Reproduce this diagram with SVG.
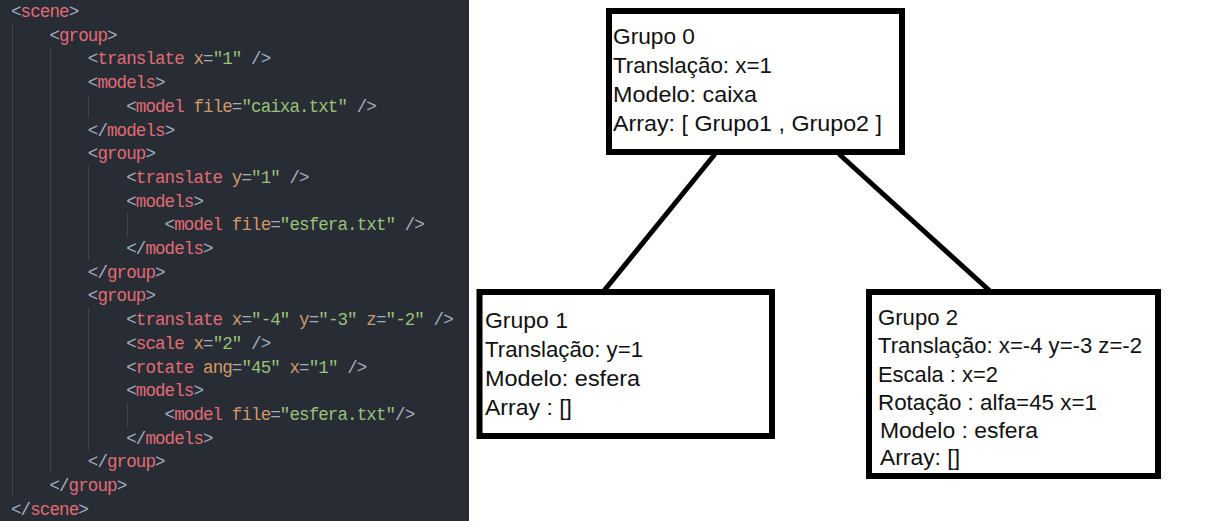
<svg xmlns="http://www.w3.org/2000/svg" width="1218" height="521" viewBox="0 0 1218 521">
<style>
.code{font-family:"Liberation Mono","DejaVu Sans Mono",monospace;font-size:17.5px;letter-spacing:-0.9px;fill:#abb2bf}
.p{fill:#a3b0c2}
.t{fill:#e06c75}
.a{fill:#d19a66}
.s{fill:#98c379}
.g{stroke:#3e4451;stroke-width:1}
.box{fill:#ffffff;stroke:#000000;stroke-width:6}
.lbl{font-family:"Liberation Sans",Arial,sans-serif;font-size:22px;fill:#111111}
.conn{stroke:#000000;stroke-width:5;fill:none}
</style>
<rect x="0" y="0" width="1218" height="521" fill="#ffffff"/>
<g id="code-panel">
<rect x="0" y="0" width="469" height="521" fill="#282c34"/>
<line class="g" x1="12.5" y1="24" x2="12.5" y2="497"/>
<line class="g" x1="50.5" y1="47" x2="50.5" y2="474"/>
<line class="g" x1="88.5" y1="95" x2="88.5" y2="118"/>
<line class="g" x1="88.5" y1="166" x2="88.5" y2="260"/>
<line class="g" x1="88.5" y1="308" x2="88.5" y2="450"/>
<line class="g" x1="127.5" y1="213" x2="127.5" y2="237"/>
<line class="g" x1="127.5" y1="403" x2="127.5" y2="427"/>
<text class="code" x="11" y="17"><tspan class="p">&lt;</tspan><tspan class="t">scene</tspan><tspan class="p">&gt;</tspan></text>
<text class="code" x="49.4" y="40.7"><tspan class="p">&lt;</tspan><tspan class="t">group</tspan><tspan class="p">&gt;</tspan></text>
<text class="code" x="87.8" y="64.4"><tspan class="p">&lt;</tspan><tspan class="t">translate</tspan> <tspan class="a">x</tspan><tspan class="p">=</tspan><tspan class="s">"1"</tspan> <tspan class="p">/&gt;</tspan></text>
<text class="code" x="87.8" y="88.1"><tspan class="p">&lt;</tspan><tspan class="t">models</tspan><tspan class="p">&gt;</tspan></text>
<text class="code" x="126.2" y="111.8"><tspan class="p">&lt;</tspan><tspan class="t">model</tspan> <tspan class="a">file</tspan><tspan class="p">=</tspan><tspan class="s">"caixa.txt"</tspan> <tspan class="p">/&gt;</tspan></text>
<text class="code" x="87.8" y="135.5"><tspan class="p">&lt;/</tspan><tspan class="t">models</tspan><tspan class="p">&gt;</tspan></text>
<text class="code" x="87.8" y="159.2"><tspan class="p">&lt;</tspan><tspan class="t">group</tspan><tspan class="p">&gt;</tspan></text>
<text class="code" x="126.2" y="182.9"><tspan class="p">&lt;</tspan><tspan class="t">translate</tspan> <tspan class="a">y</tspan><tspan class="p">=</tspan><tspan class="s">"1"</tspan> <tspan class="p">/&gt;</tspan></text>
<text class="code" x="126.2" y="206.6"><tspan class="p">&lt;</tspan><tspan class="t">models</tspan><tspan class="p">&gt;</tspan></text>
<text class="code" x="164.6" y="230.3"><tspan class="p">&lt;</tspan><tspan class="t">model</tspan> <tspan class="a">file</tspan><tspan class="p">=</tspan><tspan class="s">"esfera.txt"</tspan> <tspan class="p">/&gt;</tspan></text>
<text class="code" x="126.2" y="254"><tspan class="p">&lt;/</tspan><tspan class="t">models</tspan><tspan class="p">&gt;</tspan></text>
<text class="code" x="87.8" y="277.7"><tspan class="p">&lt;/</tspan><tspan class="t">group</tspan><tspan class="p">&gt;</tspan></text>
<text class="code" x="87.8" y="301.4"><tspan class="p">&lt;</tspan><tspan class="t">group</tspan><tspan class="p">&gt;</tspan></text>
<text class="code" x="126.2" y="325.1"><tspan class="p">&lt;</tspan><tspan class="t">translate</tspan> <tspan class="a">x</tspan><tspan class="p">=</tspan><tspan class="s">"-4"</tspan> <tspan class="a">y</tspan><tspan class="p">=</tspan><tspan class="s">"-3"</tspan> <tspan class="a">z</tspan><tspan class="p">=</tspan><tspan class="s">"-2"</tspan> <tspan class="p">/&gt;</tspan></text>
<text class="code" x="126.2" y="348.8"><tspan class="p">&lt;</tspan><tspan class="t">scale</tspan> <tspan class="a">x</tspan><tspan class="p">=</tspan><tspan class="s">"2"</tspan> <tspan class="p">/&gt;</tspan></text>
<text class="code" x="126.2" y="372.5"><tspan class="p">&lt;</tspan><tspan class="t">rotate</tspan> <tspan class="a">ang</tspan><tspan class="p">=</tspan><tspan class="s">"45"</tspan> <tspan class="a">x</tspan><tspan class="p">=</tspan><tspan class="s">"1"</tspan> <tspan class="p">/&gt;</tspan></text>
<text class="code" x="126.2" y="396.2"><tspan class="p">&lt;</tspan><tspan class="t">models</tspan><tspan class="p">&gt;</tspan></text>
<text class="code" x="164.6" y="419.9"><tspan class="p">&lt;</tspan><tspan class="t">model</tspan> <tspan class="a">file</tspan><tspan class="p">=</tspan><tspan class="s">"esfera.txt"</tspan><tspan class="p">/&gt;</tspan></text>
<text class="code" x="126.2" y="443.6"><tspan class="p">&lt;/</tspan><tspan class="t">models</tspan><tspan class="p">&gt;</tspan></text>
<text class="code" x="87.8" y="467.3"><tspan class="p">&lt;/</tspan><tspan class="t">group</tspan><tspan class="p">&gt;</tspan></text>
<text class="code" x="49.4" y="491"><tspan class="p">&lt;/</tspan><tspan class="t">group</tspan><tspan class="p">&gt;</tspan></text>
<text class="code" x="11" y="514.7"><tspan class="p">&lt;/</tspan><tspan class="t">scene</tspan><tspan class="p">&gt;</tspan></text>
</g>
<g id="connectors">
<line class="conn" x1="715" y1="154" x2="603" y2="292"/>
<line class="conn" x1="839" y1="154" x2="991" y2="292"/>
</g>
<g id="grupo0">
<rect class="box" x="609" y="11" width="293" height="141"/>
<text class="lbl" x="613" y="44" textLength="82" lengthAdjust="spacingAndGlyphs">Grupo 0</text>
<text class="lbl" x="613" y="73" textLength="159" lengthAdjust="spacingAndGlyphs">Translação: x=1</text>
<text class="lbl" x="613" y="102" textLength="144" lengthAdjust="spacingAndGlyphs">Modelo: caixa</text>
<text class="lbl" x="613" y="131" textLength="269" lengthAdjust="spacingAndGlyphs">Array: [ Grupo1 , Grupo2 ]</text>
</g>
<g id="grupo1">
<rect class="box" x="479.5" y="292" width="292.5" height="144"/>
<text class="lbl" x="485" y="328" textLength="83" lengthAdjust="spacingAndGlyphs">Grupo 1</text>
<text class="lbl" x="485" y="357" textLength="158" lengthAdjust="spacingAndGlyphs">Translação: y=1</text>
<text class="lbl" x="485" y="386" textLength="155" lengthAdjust="spacingAndGlyphs">Modelo: esfera</text>
<text class="lbl" x="485" y="415" textLength="87" lengthAdjust="spacingAndGlyphs">Array : []</text>
</g>
<g id="grupo2">
<rect class="box" x="869" y="292" width="289" height="184"/>
<text class="lbl" x="878" y="325" textLength="80" lengthAdjust="spacingAndGlyphs">Grupo 2</text>
<text class="lbl" x="878" y="353" textLength="264" lengthAdjust="spacingAndGlyphs">Translação: x=-4 y=-3 z=-2</text>
<text class="lbl" x="878" y="382" textLength="120" lengthAdjust="spacingAndGlyphs">Escala : x=2</text>
<text class="lbl" x="878" y="410" textLength="219" lengthAdjust="spacingAndGlyphs">Rotação : alfa=45 x=1</text>
<text class="lbl" x="880" y="438" textLength="158" lengthAdjust="spacingAndGlyphs">Modelo : esfera</text>
<text class="lbl" x="880" y="465" textLength="80" lengthAdjust="spacingAndGlyphs">Array: []</text>
</g>
</svg>
